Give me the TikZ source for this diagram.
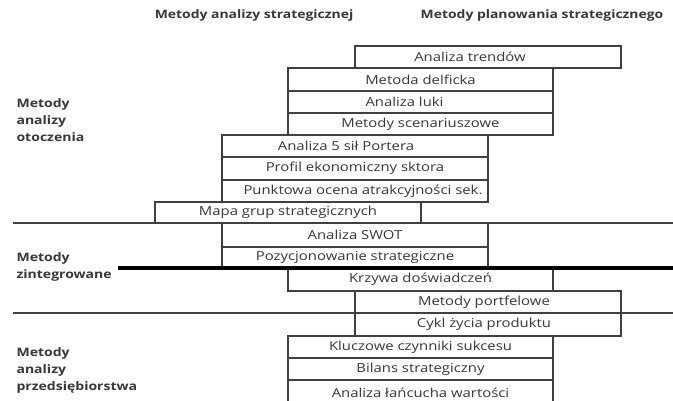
\documentclass[tikz,border=0pt]{standalone}
\usepackage{fontspec}
\setmainfont{Open Sans}[FakeStretch=1.2]
\usepackage{tikz}
\definecolor{ramka}{HTML}{404040}
\definecolor{napis}{HTML}{383838}

\begin{document}
\begin{tikzpicture}[x=1pt, y=-1pt,
	metoda/.style={draw=ramka, line width=1.1pt, fill=white, inner sep=0pt, text=napis, font=\fontsize{12.4}{14}\selectfont},
	grupa/.style={anchor=west, align=left, text=napis, font=\fontsize{11.7}{17}\selectfont\bfseries},
	naglowek/.style={text=napis, font=\fontsize{11.6}{14}\selectfont\bfseries}]
	\useasboundingbox[fill=white] (0,0) rectangle (673,401);
	%\draw[step=10, very thin, black!20] (0,0) grid (673,401);
	% naglowki kolumn
	\node[naglowek] (nagl1) at (254,15) {Metody analizy strategicznej};
	\node[naglowek] (nagl2) at (542,15) {Metody planowania strategicznego};
	% grupy metod
	\node[grupa] (otocz) at (13,120) {Metody\\analizy\\otoczenia};
	\node[grupa] (integr) at (13,267) {Metody\\zintegrowane};
	\node[grupa] (przeds) at (13,370) {Metody\\analizy\\przedsi\k{e}biorstwa};
	% metody analizy otoczenia
	\node[metoda, minimum width=266, minimum height=22] (trendy) at (488,57) {\hspace*{-36pt}Analiza trendów};
	\node[metoda, minimum width=265, minimum height=23] (delfi) at (420.5,79.5) {Metoda delficka};
	\node[metoda, minimum width=265, minimum height=22] (luka) at (420.5,102) {\hspace*{-32pt}Analiza luki};
	\node[metoda, minimum width=265, minimum height=22] (scen) at (420.5,124) {Metody scenariuszowe};
	\node[metoda, minimum width=266, minimum height=22] (porter) at (355,146) {\hspace*{-18pt}Analiza 5 sił Portera};
	\node[metoda, minimum width=266, minimum height=23] (profil) at (355,168.5) {Profil ekonomiczny sktora};
	\node[metoda, minimum width=266, minimum height=22] (ocena) at (355,191) {\hspace*{16pt}Punktowa ocena atrakcyjności sek.};
	\node[metoda, minimum width=266, minimum height=21] (mapa) at (288,212.5) {Mapa grup strategicznych};
	% metody zintegrowane
	\node[metoda, minimum width=266, minimum height=24] (swot) at (355,235) {Analiza SWOT};
	\node[metoda, minimum width=266, minimum height=21] (pozyc) at (355,257.5) {Pozycjonowanie strategiczne};
	\node[metoda, minimum width=265, minimum height=23] (krzywa) at (420.5,279.5) {Krzywa doświadczeń};
	\node[metoda, minimum width=266, minimum height=22] (portf) at (488,302) {\hspace*{-8pt}Metody portfelowe};
	% metody analizy przedsiebiorstwa
	\node[metoda, minimum width=266, minimum height=23] (cykl) at (488,324.5) {\hspace*{-8pt}Cykl życia produktu};
	\node[metoda, minimum width=265, minimum height=22] (klucz) at (420.5,347) {Kluczowe czynniki sukcesu};
	\node[metoda, minimum width=265, minimum height=22] (bilans) at (420.5,369) {Bilans strategiczny};
	\node[metoda, minimum width=265, minimum height=26] (lanc) at (420.5,393) {Analiza łańcucha wartości};
	% linie podzialu
	\coordinate (gorna l) at (13,223);
	\coordinate (gorna p) at (673,223);
	\coordinate (gruba l) at (118,268);
	\coordinate (gruba p) at (673,268);
	\coordinate (dolna l) at (13,313);
	\coordinate (dolna p) at (673,313);
	\draw[ramka, line width=1.1pt] (gorna l) -- (gorna p);
	\draw[ramka, line width=1.1pt] (dolna l) -- (dolna p);
	\draw[black, line width=4pt] (gruba l) -- (gruba p);
\end{tikzpicture}
\end{document}
